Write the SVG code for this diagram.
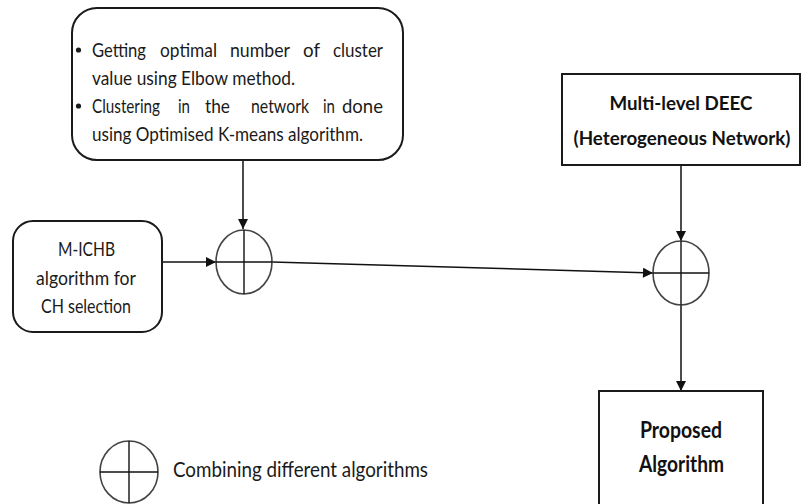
<svg xmlns="http://www.w3.org/2000/svg" width="803" height="504" viewBox="0 0 803 504">
<defs>
<style>
.box{fill:#fff;stroke:#1a1a1a;stroke-width:2}
.sum{fill:none;stroke:#444;stroke-width:1.6}
.cross{stroke:#111;stroke-width:1.4}
.edge{stroke:#111;stroke-width:1.5;fill:none;marker-end:url(#ah)}
.t{font-family:Lato,"Open Sans","Liberation Sans",sans-serif;font-size:19px;fill:#1a1a1a}
.b{font-family:Lato,"Open Sans","Liberation Sans",sans-serif;font-size:19.5px;font-weight:bold;fill:#111}
.p{font-size:23px}
.lg{font-size:21px}
</style>
<marker id="ah" viewBox="0 0 10 10" refX="10" refY="5" markerWidth="11" markerHeight="10" markerUnits="userSpaceOnUse" orient="auto">
<path d="M0,0 L10,5 L0,10 z" fill="#111"/>
</marker>
</defs>
<rect width="803" height="504" fill="#fff"/>

<g id="connectors">
<line class="edge" x1="243" y1="160" x2="243" y2="229"/>
<line class="edge" x1="162" y1="262" x2="216" y2="262"/>
<line class="edge" x1="272" y1="262" x2="653" y2="273"/>
<line class="edge" x1="681" y1="165" x2="681" y2="241"/>
<line class="edge" x1="681" y1="305" x2="681" y2="391"/>
</g>

<g id="elbow">
<rect class="box" x="72" y="8" width="331" height="152" rx="25" ry="25"/>
<circle cx="78.5" cy="50" r="2.6" fill="#1a1a1a"/>
<circle cx="78.5" cy="106" r="2.6" fill="#1a1a1a"/>
<text class="t" x="92" y="57" textLength="54" lengthAdjust="spacingAndGlyphs">Getting</text>
<text class="t" x="160" y="57" textLength="57" lengthAdjust="spacingAndGlyphs">optimal</text>
<text class="t" x="230" y="57" textLength="60" lengthAdjust="spacingAndGlyphs">number</text>
<text class="t" x="303" y="57" textLength="17" lengthAdjust="spacingAndGlyphs">of</text>
<text class="t" x="333" y="57" textLength="50" lengthAdjust="spacingAndGlyphs">cluster</text>
<text class="t" x="92" y="85" textLength="203" lengthAdjust="spacingAndGlyphs">value using Elbow method.</text>
<text class="t" x="92" y="113" textLength="68" lengthAdjust="spacingAndGlyphs">Clustering</text>
<text class="t" x="178" y="113" textLength="12" lengthAdjust="spacingAndGlyphs">in</text>
<text class="t" x="205" y="113" textLength="25" lengthAdjust="spacingAndGlyphs">the</text>
<text class="t" x="251" y="113" textLength="58" lengthAdjust="spacingAndGlyphs">network</text>
<text class="t" x="323" y="113" textLength="12" lengthAdjust="spacingAndGlyphs">in</text>
<text class="t" x="342" y="113" textLength="41" lengthAdjust="spacingAndGlyphs">done</text>
<text class="t" x="92" y="141" textLength="271" lengthAdjust="spacingAndGlyphs">using Optimised  K-means algorithm.</text>
</g>

<g id="michb">
<rect class="box" x="13" y="221" width="149" height="111" rx="20" ry="20"/>
<text class="t" x="58" y="256" textLength="57" lengthAdjust="spacingAndGlyphs">M-ICHB</text>
<text class="t" x="36" y="285" textLength="100" lengthAdjust="spacingAndGlyphs">algorithm for</text>
<text class="t" x="41" y="313" textLength="90" lengthAdjust="spacingAndGlyphs">CH selection</text>
</g>

<g id="combine1">
<ellipse class="sum" cx="244" cy="262" rx="28" ry="32"/>
<line class="cross" x1="244" y1="230" x2="244" y2="294"/>
<line class="cross" x1="216" y1="262" x2="272" y2="262"/>
</g>

<g id="deec">
<rect class="box" x="562" y="74" width="238" height="91"/>
<text class="b" x="681" y="110" text-anchor="middle" textLength="143" lengthAdjust="spacingAndGlyphs">Multi-level DEEC</text>
<text class="b" x="682" y="145" text-anchor="middle" textLength="217" lengthAdjust="spacingAndGlyphs">(Heterogeneous Network)</text>
</g>

<g id="combine2">
<ellipse class="sum" cx="681" cy="273" rx="28" ry="32"/>
<line class="cross" x1="681" y1="241" x2="681" y2="305"/>
<line class="cross" x1="653" y1="273" x2="709" y2="273"/>
</g>

<g id="proposed">
<rect class="box" x="599" y="391" width="164" height="130"/>
<text class="b p" x="640" y="438" textLength="82" lengthAdjust="spacingAndGlyphs">Proposed</text>
<text class="b p" x="639" y="472" textLength="85" lengthAdjust="spacingAndGlyphs">Algorithm</text>
</g>

<g id="legend">
<ellipse class="sum" cx="129" cy="472" rx="29" ry="31"/>
<line class="cross" x1="129" y1="441" x2="129" y2="503"/>
<line class="cross" x1="100" y1="472" x2="158" y2="472"/>
<text class="t lg" x="173" y="477" textLength="255" lengthAdjust="spacingAndGlyphs">Combining different algorithms</text>
</g>
</svg>
